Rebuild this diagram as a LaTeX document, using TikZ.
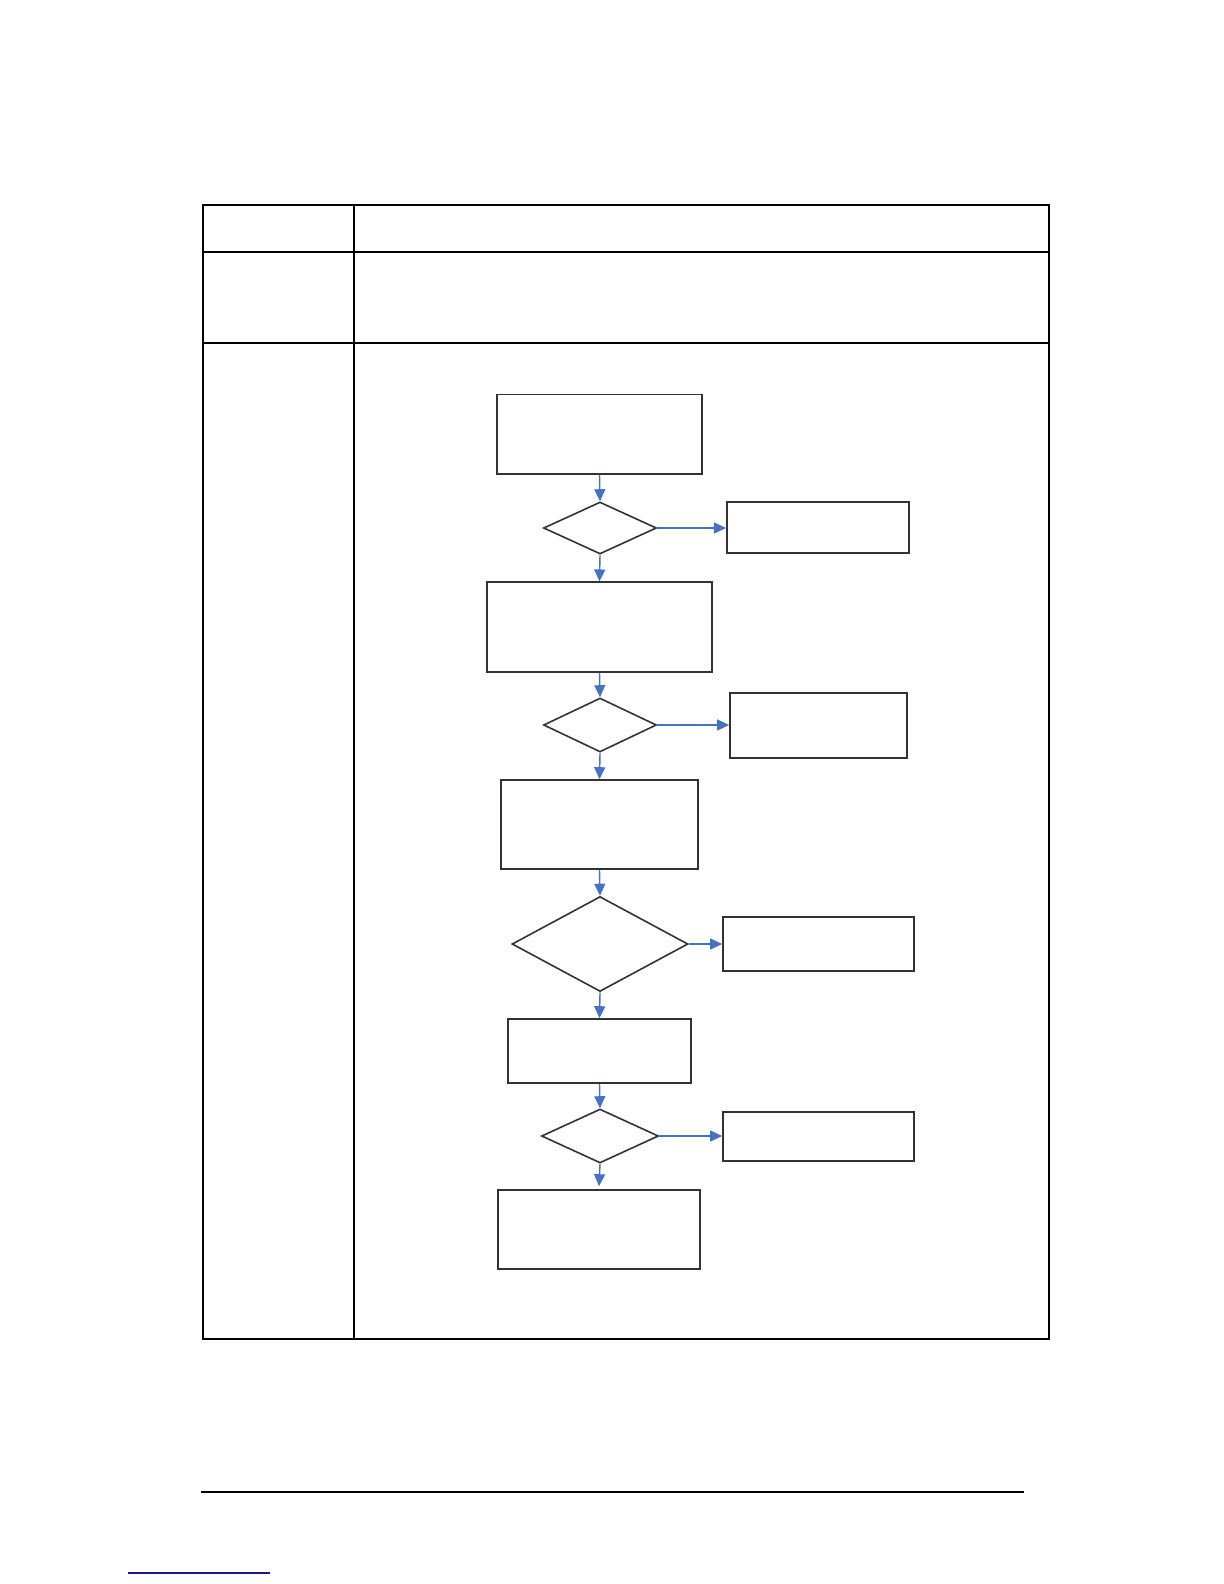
\documentclass[tikz,border=0pt]{standalone}
\usetikzlibrary{shapes.geometric,arrows.meta}
\definecolor{flowblue}{HTML}{4472C4}
\definecolor{boxgray}{HTML}{333333}
\definecolor{linkblue}{HTML}{1A1A8C}
\tikzset{
  tableline/.style={line width=1pt, black},
  procbox/.style={draw=boxgray, line width=0.8pt, rectangle, inner sep=0pt},
  decision/.style={draw=boxgray, line width=0.8pt, diamond, inner sep=0pt},
  flow/.style={draw=flowblue, line width=0.7pt, -{Triangle[length=6pt,width=5.5pt]}}
}
\begin{document}
\begin{tikzpicture}[x=0.5pt,y=-0.5pt]
\useasboundingbox (0,0) rectangle (1224,1584);
\fill[white] (0,0) rectangle (1224,1584);
% table
\coordinate (tTL) at (202.5,205.3);
\coordinate (tBR) at (1048.7,1339.3);
\draw[tableline] (tTL) rectangle (tBR);
\coordinate (r1a) at (202.5,252.3); \coordinate (r1b) at (1048.7,252.3);
\coordinate (r2a) at (202.5,343.3); \coordinate (r2b) at (1048.7,343.3);
\coordinate (cda) at (353.7,205.3); \coordinate (cdb) at (353.7,1339.3);
\draw[tableline] (r1a) -- (r1b);
\draw[tableline] (r2a) -- (r2b);
\draw[tableline] (cda) -- (cdb);
% footer rule and link underline
\coordinate (fA) at (201,1492.3); \coordinate (fB) at (1023.7,1492.3);
\draw[line width=1pt, black] (fA) -- (fB);
\coordinate (lA) at (128,1573); \coordinate (lB) at (270,1573);
\draw[line width=0.6pt, linkblue] (lA) -- (lB);
% flowchart nodes
\node[procbox, minimum width=102.5pt, minimum height=39.75pt] (b1) at (599.5,434.3) {};
\node[decision, minimum width=56.5pt, minimum height=26pt] (d1) at (600,528) {};
\node[procbox, minimum width=91.25pt, minimum height=25.5pt] (r1) at (818,527.5) {};
\node[procbox, minimum width=112.5pt, minimum height=44.75pt] (b2) at (599.5,627) {};
\node[decision, minimum width=56.5pt, minimum height=27pt] (d2) at (600,725) {};
\node[procbox, minimum width=88.5pt, minimum height=32.5pt] (r2) at (818.5,725.5) {};
\node[procbox, minimum width=98.5pt, minimum height=44.5pt] (b3) at (599.5,824.5) {};
\node[decision, minimum width=88pt, minimum height=47.5pt] (d3) at (600,944) {};
\node[procbox, minimum width=95.5pt, minimum height=27pt] (r3) at (818.5,944) {};
\node[procbox, minimum width=91.5pt, minimum height=32pt] (b4) at (599.5,1051) {};
\node[decision, minimum width=58.5pt, minimum height=27pt] (d4) at (600,1136) {};
\node[procbox, minimum width=95.5pt, minimum height=24.5pt] (r4) at (818.5,1136.5) {};
\node[procbox, minimum width=101pt, minimum height=39.5pt] (b5) at (599,1229.5) {};
% connectors
\draw[flow] (b1.south) -- (d1.north);
\draw[flow] (d1.east) -- (r1.west |- d1.east);
\draw[flow] (d1.south) -- (b2.north);
\draw[flow] (b2.south) -- (d2.north);
\draw[flow] (d2.east) -- (r2.west |- d2.east);
\draw[flow] (d2.south) -- (b3.north);
\draw[flow] (b3.south) -- (d3.north);
\draw[flow] (d3.east) -- (r3.west |- d3.east);
\draw[flow] (d3.south) -- (b4.north);
\draw[flow] (b4.south) -- (d4.north);
\draw[flow] (d4.east) -- (r4.west |- d4.east);
\draw[flow] (d4.south) -- ([yshift=1.5pt]b5.north);
\end{tikzpicture}
\end{document}
